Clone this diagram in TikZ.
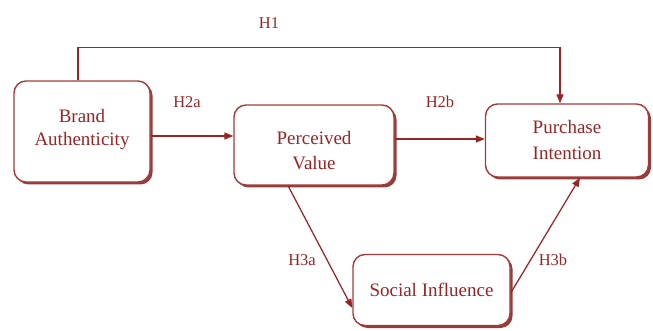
\documentclass[tikz,border=0pt]{standalone}
\usepackage{fontspec}
\setmainfont{Liberation Serif}
\usetikzlibrary{arrows.meta,shadows,calc}
\definecolor{dred}{RGB}{150,38,38}
\definecolor{bred}{RGB}{165,58,58}
\definecolor{sred}{RGB}{135,40,40}
\tikzset{
  box/.style={draw=bred, line width=1.4pt, fill=white, rounded corners=12pt,
    align=center, text=dred, inner sep=0pt,
    drop shadow={shadow xshift=2.5pt, shadow yshift=-2.5pt, fill=sred, opacity=0.9}},
  arr/.style={draw=dred, line width=1.25pt, -{Triangle[length=9pt,width=7pt]}},
  hlab/.style={text=dred, font=\fontsize{16.5}{19}\selectfont, inner sep=0pt}
}
\begin{document}
\begin{tikzpicture}[x=1pt,y=-1pt]
\useasboundingbox (0,0) rectangle (653,331);
\node[box, minimum width=136pt, minimum height=101pt, font=\fontsize{19}{22.5}\selectfont] (ba) at (82,131.5) {Brand\\Authenticity\\[-14pt]\mbox{}};
\node[box, minimum width=160pt, minimum height=80pt, font=\fontsize{19}{25}\selectfont] (pv) at (314,145) {\mbox{}\\Perceived\\Value};
\node[box, minimum width=163pt, minimum height=73pt, font=\fontsize{19}{26}\selectfont] (pi) at (567,140.5) {Purchase\\Intention};
\node[box, minimum width=157pt, minimum height=71pt, font=\fontsize{19}{23}\selectfont] (si) at (431.5,290) {Social Influence};
\node[hlab] (l1) at (269,23) {H1};
\node[hlab] (l2a) at (187,102) {H2a};
\node[hlab] (l2b) at (440,102) {H2b};
\node[hlab] (l3a) at (302,260) {H3a};
\node[hlab] (l3b) at (553,260) {H3b};
\draw[arr] ($(ba.north)+(-4,0)$) -- ++(0,-33) -| ($(pi.north)+(-7,0)$);
\draw[arr] ($(ba.east)+(0,4.5)$) -- ($(pv.west)+(0,-9)$);
\draw[arr] ($(pv.east)+(0,-6)$) -- ($(pi.west)+(0,-1.5)$);
\draw[arr] ($(pv.south)+(-26,0)$) -- ($(si.west)+(0,18)$);
\draw[arr] ($(si.east)+(0,3)$) -- ($(pi.south)+(13,0)$);
\end{tikzpicture}
\end{document}
